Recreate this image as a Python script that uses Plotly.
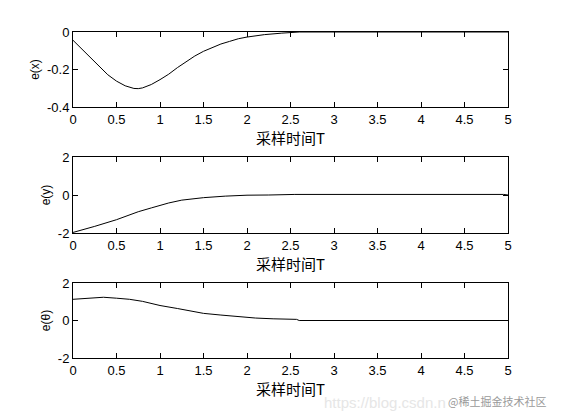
import plotly.graph_objects as go

t_x = [0, 0.1, 0.2, 0.3, 0.4, 0.5, 0.6, 0.7, 0.75, 0.8, 0.9, 1.0, 1.1, 1.2, 1.3, 1.4,
       1.5, 1.6, 1.7, 1.8, 1.9, 2.0, 2.2, 2.4, 2.6, 5.0]
e_x = [-0.044, -0.09, -0.14, -0.185, -0.228, -0.262, -0.287, -0.301, -0.302, -0.298,
       -0.28, -0.254, -0.225, -0.19, -0.158, -0.128, -0.103, -0.083, -0.064, -0.05,
       -0.036, -0.027, -0.014, -0.006, 0.0, 0.0]

t_y = [0, 0.1, 0.25, 0.5, 0.6, 0.75, 0.9, 1.0, 1.1, 1.25, 1.4, 1.5, 1.75, 2.0, 2.25,
       2.55, 4.95, 5.0]
e_y = [-1.97, -1.85, -1.65, -1.3, -1.12, -0.88, -0.68, -0.53, -0.42, -0.27, -0.18,
       -0.14, -0.06, -0.01, 0.0, 0.03, 0.03, 0.0]

t_th = [0, 0.1, 0.2, 0.35, 0.5, 0.65, 0.8, 1.0, 1.2, 1.35, 1.5, 1.7, 1.9, 2.1, 2.3,
        2.57, 2.6, 5.0]
e_th = [1.13, 1.16, 1.21, 1.24, 1.19, 1.13, 1.02, 0.8, 0.64, 0.52, 0.38, 0.29, 0.2,
        0.13, 0.09, 0.06, 0.0, 0.0]

x_ticks = [0, 0.5, 1, 1.5, 2, 2.5, 3, 3.5, 4, 4.5, 5]
x_ticklabels = ["0", "0.5", "1", "1.5", "2", "2.5", "3", "3.5", "4", "4.5", "5"]
y1_ticks = [-0.4, -0.2, 0]
y1_ticklabels = ["-0.4", "-0.2", "0"]
y23_ticks = [-2, 0, 2]
y23_ticklabels = ["-2", "0", "2"]
x_title = "采样时间T"
y_titles = ["e(x)", "e(y)", "e(θ)"]

W, H = 561, 420
xdom = [73 / W, 508 / W]
ydoms = [[1 - 107 / H, 1 - 32 / H], [1 - 233 / H, 1 - 157 / H], [1 - 358 / H, 1 - 283 / H]]

fig = go.Figure()
series = [(t_x, e_x), (t_y, e_y), (t_th, e_th)]
for i, (tx, ey) in enumerate(series):
    sfx = "" if i == 0 else str(i + 1)
    fig.add_trace(go.Scatter(x=tx, y=ey, mode="lines", line=dict(color="black", width=1),
                             xaxis="x" + sfx, yaxis="y" + sfx, showlegend=False,
                             hoverinfo="skip", cliponaxis=False))

tickfont = dict(family="Liberation Sans, Arial, sans-serif", size=13, color="black")
layout = dict(width=W, height=H, margin=dict(l=0, r=0, t=0, b=0, autoexpand=False),
              paper_bgcolor="white", plot_bgcolor="white", showlegend=False)
for i in range(3):
    sfx = "" if i == 0 else str(i + 1)
    layout["xaxis" + sfx] = dict(
        domain=xdom, anchor="y" + sfx, range=[0, 5], tickvals=x_ticks,
        ticktext=x_ticklabels, ticks="inside", ticklen=5, tickcolor="black",
        showline=True, linecolor="black", linewidth=1, mirror="ticks",
        showgrid=False, zeroline=False, tickfont=tickfont, automargin=False,
        title=dict(text=x_title, standoff=1,
                   font=dict(family="Noto Sans CJK SC", size=15, color="black")))
    if i == 0:
        yr, tv, tt = [-0.4, 0], y1_ticks, y1_ticklabels
    else:
        yr, tv, tt = [-2, 2], y23_ticks, y23_ticklabels
    layout["yaxis" + sfx] = dict(
        domain=ydoms[i], anchor="x" + sfx, range=yr, tickvals=tv, ticktext=tt,
        ticks="inside", ticklen=5, tickcolor="black", showline=True,
        linecolor="black", linewidth=1, mirror="ticks", showgrid=False,
        zeroline=False, tickfont=tickfont, automargin=False,
        title=dict(text=y_titles[i], standoff=4,
                   font=dict(family="Liberation Sans, Arial, sans-serif", size=12,
                             color="black")))
fig.update_layout(**layout)

fig.add_annotation(text="https://blog.csdn.n", x=322 / W, y=1 - 402 / H, xref="paper",
                   yref="paper", showarrow=False, xanchor="left", yanchor="middle",
                   font=dict(family="Liberation Sans", size=15, color="#e6e6e6"))
fig.add_annotation(text="@稀土掘金技术社区", x=548 / W, y=1 - 401 / H, xref="paper",
                   yref="paper", showarrow=False, xanchor="right", yanchor="middle",
                   font=dict(family="Noto Sans CJK SC", size=11, color="#9a9a9a"))

fig.write_html("out.html", post_script="document.body.style.margin='0';",
               config={"displayModeBar": False})
